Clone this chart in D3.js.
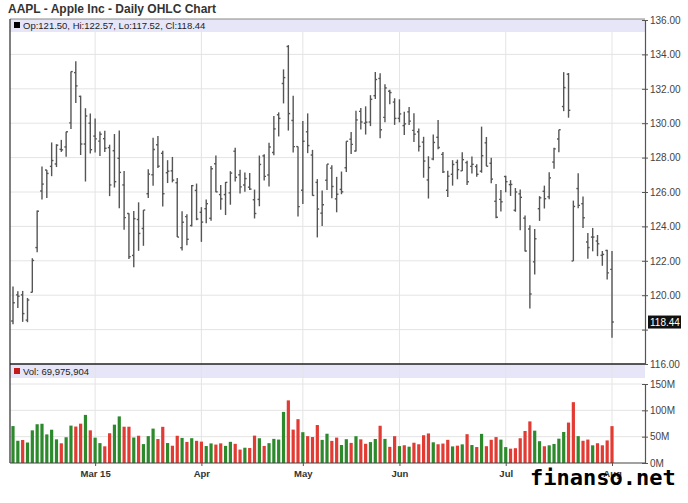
<!DOCTYPE html>
<html>
<head>
<meta charset="utf-8">
<script src="https://cdn.jsdelivr.net/npm/d3@7"></script>
<style>
  body { margin: 0; background: #fff; }
  svg { display: block; font-family: Arial, "Liberation Sans", sans-serif; }
</style>
</head>
<body>
<svg id="chart" width="688" height="503"></svg>
<script>
// Trading days shown (Feb 4 - Aug 3, 2015)
const dates = [
  "2015-02-04","2015-02-05","2015-02-06","2015-02-09","2015-02-10","2015-02-11","2015-02-12","2015-02-13",
  "2015-02-17","2015-02-18","2015-02-19","2015-02-20","2015-02-23","2015-02-24","2015-02-25","2015-02-26","2015-02-27",
  "2015-03-02","2015-03-03","2015-03-04","2015-03-05","2015-03-06","2015-03-09","2015-03-10","2015-03-11","2015-03-12",
  "2015-03-13","2015-03-16","2015-03-17","2015-03-18","2015-03-19","2015-03-20","2015-03-23","2015-03-24","2015-03-25",
  "2015-03-26","2015-03-27","2015-03-30","2015-03-31",
  "2015-04-01","2015-04-02","2015-04-06","2015-04-07","2015-04-08","2015-04-09","2015-04-10","2015-04-13","2015-04-14",
  "2015-04-15","2015-04-16","2015-04-17","2015-04-20","2015-04-21","2015-04-22","2015-04-23","2015-04-24","2015-04-27",
  "2015-04-28","2015-04-29","2015-04-30",
  "2015-05-01","2015-05-04","2015-05-05","2015-05-06","2015-05-07","2015-05-08","2015-05-11","2015-05-12","2015-05-13",
  "2015-05-14","2015-05-15","2015-05-18","2015-05-19","2015-05-20","2015-05-21","2015-05-22","2015-05-26","2015-05-27",
  "2015-05-28","2015-05-29",
  "2015-06-01","2015-06-02","2015-06-03","2015-06-04","2015-06-05","2015-06-08","2015-06-09","2015-06-10","2015-06-11",
  "2015-06-12","2015-06-15","2015-06-16","2015-06-17","2015-06-18","2015-06-19","2015-06-22","2015-06-23","2015-06-24",
  "2015-06-25","2015-06-26","2015-06-29","2015-06-30",
  "2015-07-01","2015-07-02","2015-07-06","2015-07-07","2015-07-08","2015-07-09","2015-07-10","2015-07-13","2015-07-14",
  "2015-07-15","2015-07-16","2015-07-17","2015-07-20","2015-07-21","2015-07-22","2015-07-23","2015-07-24","2015-07-27",
  "2015-07-28","2015-07-29","2015-07-30","2015-07-31",
  "2015-08-03"
];

const open = [
  118.50,120.02,120.02,118.55,120.17,122.77,126.06,127.28,127.49,127.63,128.48,128.62,130.02,132.94,131.56,128.79,130.00,
  129.25,128.96,129.10,128.58,128.40,127.96,126.41,124.75,122.31,124.40,123.88,125.90,127.00,128.75,128.25,127.12,127.23,
  126.54,122.76,124.57,124.05,126.09,
  124.82,125.03,124.47,127.64,125.85,125.85,125.95,128.37,127.00,126.41,126.28,125.55,125.57,128.10,126.99,128.30,130.49,
  132.31,134.46,130.16,128.64,
  126.10,129.50,128.15,126.56,124.77,126.68,127.39,125.60,126.15,127.41,129.07,128.38,130.69,130.00,130.07,131.60,132.60,
  130.34,131.86,131.23,
  130.28,129.86,130.66,129.58,129.50,128.90,126.70,127.92,129.18,128.19,126.10,127.03,127.72,127.23,127.71,127.49,127.48,
  127.21,128.86,127.67,125.46,125.57,
  126.90,126.43,124.94,125.89,124.48,123.85,121.94,125.03,126.04,125.72,127.74,129.08,130.97,132.85,121.99,126.20,125.32,
  123.09,123.38,123.15,122.32,122.60,
  121.50
];
const high = [
  120.51,120.23,120.25,119.84,122.15,124.92,127.48,127.28,128.88,128.78,129.03,129.50,133.00,133.60,131.60,130.87,130.57,
  130.28,129.52,129.56,128.75,129.37,129.57,127.22,124.77,124.90,125.40,124.95,127.32,129.16,129.25,128.40,127.85,128.04,
  126.82,124.88,124.70,126.40,126.49,
  125.12,125.56,127.51,128.12,126.40,126.58,127.21,128.57,127.29,127.13,127.10,126.14,128.12,128.20,128.87,130.42,130.63,
  133.13,134.54,131.59,128.64,
  130.13,130.57,128.45,126.75,126.08,127.62,127.56,126.88,127.19,128.95,129.49,130.72,130.88,130.98,131.63,132.97,132.91,
  132.26,131.95,131.45,
  131.39,130.66,130.94,130.58,129.69,129.21,128.08,129.34,130.18,128.33,127.24,127.85,127.88,128.31,127.82,128.06,127.61,
  129.80,129.20,127.99,126.47,126.12,
  126.94,126.69,126.23,126.15,124.64,124.06,123.85,125.76,126.37,127.15,128.57,129.62,132.97,132.92,125.50,127.09,125.74,
  123.61,123.91,123.50,122.57,122.64,
  122.57
];
const low = [
  118.31,119.25,118.45,118.43,120.16,122.50,125.57,125.65,126.92,127.45,128.33,128.05,129.66,131.17,128.15,126.61,128.24,
  128.30,128.09,128.32,125.76,126.26,125.06,123.80,122.11,121.63,122.58,122.87,125.65,126.37,127.40,125.16,126.52,126.56,
  123.38,122.60,122.91,124.00,124.36,
  123.10,124.19,124.33,125.98,124.97,124.66,125.26,126.61,125.91,126.01,126.11,124.46,125.17,126.67,126.32,128.14,129.23,
  131.15,129.57,128.30,124.58,
  125.30,128.26,125.78,123.36,124.02,126.11,125.63,124.82,125.87,127.16,128.21,128.36,129.64,129.34,129.83,131.40,129.12,
  130.05,131.10,129.90,
  130.05,129.32,129.90,128.91,128.36,126.83,125.62,127.85,128.48,127.11,125.71,126.37,126.74,127.22,126.40,127.08,126.88,
  127.12,127.50,126.51,124.48,124.86,
  125.99,125.77,124.85,123.77,122.54,119.22,121.21,124.32,125.04,125.58,127.35,128.31,130.70,130.32,121.99,125.06,123.90,
  122.12,122.55,122.27,121.71,120.91,
  117.52
];
const close = [
  119.56,119.94,118.93,119.72,122.02,124.88,126.46,127.08,127.83,128.72,128.45,129.50,133.00,132.17,128.79,130.42,128.46,
  129.09,129.36,128.54,126.41,126.60,127.14,124.51,122.24,124.45,123.59,124.95,127.04,128.47,127.50,125.90,127.21,126.69,
  123.38,124.24,123.25,126.37,124.43,
  124.25,125.32,127.35,126.01,125.60,126.56,127.10,126.85,126.30,126.78,126.17,124.75,127.60,126.91,128.62,129.67,130.28,
  132.65,130.56,128.64,125.15,
  128.95,128.70,125.80,125.01,125.26,127.62,126.32,125.87,126.01,128.95,128.77,130.19,130.07,130.06,131.39,132.54,129.62,
  132.05,131.78,130.28,
  130.54,129.96,130.12,129.36,128.65,127.80,127.42,128.88,128.59,127.17,126.92,127.60,127.30,127.88,126.60,127.61,127.03,
  128.11,127.50,126.75,124.53,125.43,
  126.60,126.44,126.00,125.69,122.57,120.07,123.28,125.66,125.61,126.82,128.51,129.62,132.07,130.75,125.16,125.22,124.50,
  122.77,123.38,122.99,122.37,121.30,
  118.44
];
// volume in millions of shares
const volume = [
  70.1,42.2,43.7,38.9,62.0,73.6,74.5,54.3,63.2,44.9,37.4,48.9,71.0,69.2,74.7,91.3,62.0,
  48.1,37.8,31.7,56.5,72.8,88.5,68.9,68.9,48.4,51.8,35.9,51.0,65.3,45.5,68.7,37.9,32.8,51.7,47.6,40.0,47.1,42.1,
  40.6,32.2,37.2,35.0,37.3,32.5,40.2,36.4,25.5,29.0,28.4,52.0,47.0,32.4,37.7,45.8,44.5,97.0,118.9,63.4,83.2,
  58.5,51.0,49.3,72.1,43.9,55.6,42.0,48.2,34.2,45.2,38.2,50.9,44.9,36.5,39.7,45.6,70.7,45.8,30.7,50.9,
  32.1,33.7,31.0,38.5,35.6,52.7,56.1,39.3,35.6,36.9,44.0,31.5,32.9,35.4,54.7,34.1,30.3,55.3,31.9,44.1,49.2,44.4,
  30.2,27.2,28.1,47.0,60.8,79.0,61.4,41.4,31.8,33.6,36.2,46.2,58.9,76.8,115.5,51.0,42.2,44.5,33.6,37.5,33.6,42.9,
  70.0
];
// previous close before the first bar, for volume colouring
const prevClose0 = 118.65;

const priceTicks = [116, 118, 120, 122, 124, 126, 128, 130, 132, 134, 136];
const volTicks = [0, 50, 100, 150];
const monthTicks = ["2015-03-02", "2015-04-01", "2015-05-01", "2015-06-01", "2015-07-01", "2015-08-03"];
const monthLabels = ["Mar 15", "Apr", "May", "Jun", "Jul", "Aug"];

const svg = d3.select("#chart");

const left = 10, right = 645;
const priceTop = 19, priceBottom = 364;
const volTop = 364, volBottom = 463;
const headH = 13;

const x = d3.scalePoint().domain(dates).range([13, 612]);
const y = d3.scaleLinear().domain([116, 136]).range([priceBottom, 20]);
const yv = d3.scaleLinear().domain([0, 150]).range([volBottom, 384]);

const last = close[close.length - 1];

// title
svg.append("text")
  .attr("x", 8).attr("y", 13)
  .attr("font-size", 12).attr("font-weight", "bold").attr("fill", "#333")
  .text("AAPL - Apple Inc - Daily OHLC Chart");

// panel backgrounds
svg.append("rect").attr("x", left).attr("y", priceTop).attr("width", right - left).attr("height", priceBottom - priceTop).attr("fill", "#fff");
svg.append("rect").attr("x", left).attr("y", priceTop).attr("width", right - left).attr("height", headH).attr("fill", "#e6e6f8");
svg.append("rect").attr("x", left).attr("y", volTop).attr("width", right - left).attr("height", headH + 1).attr("fill", "#e6e6f8");

// horizontal grid
svg.append("g").selectAll("line").data(priceTicks.filter(d => d > 116 && d < 136)).join("line")
  .attr("x1", left).attr("x2", right).attr("y1", d => y(d)).attr("y2", d => y(d))
  .attr("stroke", "#e4e4e4").attr("stroke-width", 1);
svg.append("g").selectAll("line").data(volTicks.filter(d => d > 0)).join("line")
  .attr("x1", left).attr("x2", right).attr("y1", d => yv(d)).attr("y2", d => yv(d))
  .attr("stroke", "#e4e4e4").attr("stroke-width", 1);

// vertical grid
svg.append("g").selectAll("line").data(monthTicks).join("line")
  .attr("x1", d => x(d)).attr("x2", d => x(d))
  .attr("y1", priceTop + headH).attr("y2", volBottom)
  .attr("stroke", "#e4e4e4").attr("stroke-width", 1);

// OHLC bars
const bars = svg.append("g").selectAll("g").data(dates).join("g")
  .attr("stroke", "#555").attr("stroke-width", 1.4);
bars.append("line")
  .attr("x1", d => x(d)).attr("x2", d => x(d))
  .attr("y1", (d, i) => y(high[i])).attr("y2", (d, i) => y(low[i]));
bars.append("line")
  .attr("x1", d => x(d) - 1.8).attr("x2", d => x(d))
  .attr("y1", (d, i) => y(open[i])).attr("y2", (d, i) => y(open[i]));
bars.append("line")
  .attr("x1", d => x(d)).attr("x2", d => x(d) + 1.8)
  .attr("y1", (d, i) => y(close[i])).attr("y2", (d, i) => y(close[i]));

// volume bars, coloured by close vs previous close
svg.append("g").selectAll("rect").data(dates).join("rect")
  .attr("x", d => x(d) - 1.6)
  .attr("width", 3.2)
  .attr("y", (d, i) => yv(volume[i]))
  .attr("height", (d, i) => volBottom - yv(volume[i]))
  .attr("fill", (d, i) => close[i] >= (i ? close[i - 1] : prevClose0) ? "#2c8a2c" : "#e23b33");

// panel headers text
svg.append("rect").attr("x", 14).attr("y", 22).attr("width", 6).attr("height", 6).attr("fill", "#000");
svg.append("text").attr("x", 23).attr("y", 29).attr("font-size", 9.5).attr("fill", "#222")
  .text(`Op:${open[open.length - 1].toFixed(2)}, Hi:${high[high.length - 1].toFixed(2)}, Lo:${low[low.length - 1].toFixed(2)}, Cl:${close[close.length - 1].toFixed(2)}`);
svg.append("rect").attr("x", 14).attr("y", 368).attr("width", 6).attr("height", 6).attr("fill", "#c41a1a");
svg.append("text").attr("x", 23).attr("y", 375).attr("font-size", 9.5).attr("fill", "#222")
  .text("Vol: " + d3.format(",")(69975904));

// frame lines
svg.append("line").attr("x1", left).attr("x2", right).attr("y1", priceTop).attr("y2", priceTop).attr("stroke", "#888");
svg.append("line").attr("x1", left).attr("x2", left).attr("y1", priceTop).attr("y2", volBottom).attr("stroke", "#555").attr("stroke-width", 1.5);
svg.append("line").attr("x1", left).attr("x2", right).attr("y1", priceBottom).attr("y2", priceBottom).attr("stroke", "#222").attr("stroke-width", 1.5);
svg.append("line").attr("x1", left).attr("x2", right).attr("y1", volBottom).attr("y2", volBottom).attr("stroke", "#444").attr("stroke-width", 1.2);

// right axes (the 118.00 label sits under the last-price box, so it is left blank)
const priceAxis = svg.append("g").attr("transform", `translate(${right},0)`)
  .call(d3.axisRight(y).tickValues(priceTicks).tickSize(3).tickPadding(2)
    .tickFormat(d => Math.abs(y(d) - y(last)) < 12 ? "" : d3.format(".2f")(d)));
const volAxis = svg.append("g").attr("transform", `translate(${right},0)`)
  .call(d3.axisRight(yv).tickValues(volTicks).tickSize(3).tickPadding(2).tickFormat(d => d + "M"));
[priceAxis, volAxis].forEach(g => {
  g.select(".domain").attr("stroke", "#555").attr("stroke-width", 1.2);
  g.selectAll(".tick line").attr("stroke", "#555").attr("x1", -3);
  g.selectAll(".tick text").attr("font-size", 10).attr("fill", "#444").attr("font-family", "Arial, 'Liberation Sans', sans-serif");
});

// x axis
const xAxis = svg.append("g").attr("transform", `translate(0,${volBottom})`)
  .call(d3.axisBottom(x).tickValues(monthTicks).tickSize(3).tickPadding(4).tickFormat((d, i) => monthLabels[i]));
xAxis.select(".domain").remove();
xAxis.selectAll(".tick line").attr("stroke", "#555");
xAxis.selectAll(".tick text").attr("font-size", 9.5).attr("font-weight", "bold").attr("fill", "#333")
  .attr("font-family", "Arial, 'Liberation Sans', sans-serif");

// last price marker
svg.append("rect").attr("x", 648).attr("y", y(last) - 6.5).attr("width", 33).attr("height", 13).attr("fill", "#111");
svg.append("text").attr("x", 650).attr("y", y(last) + 3.5).attr("font-size", 10).attr("fill", "#fff")
  .text(last.toFixed(2));

// watermark
svg.append("text").attr("x", 530).attr("y", 485)
  .attr("font-family", "'DejaVu Sans Mono', monospace").attr("font-weight", "bold").attr("font-size", 22)
  .attr("fill", "#000").text("finanso.net");
</script>
</body>
</html>
